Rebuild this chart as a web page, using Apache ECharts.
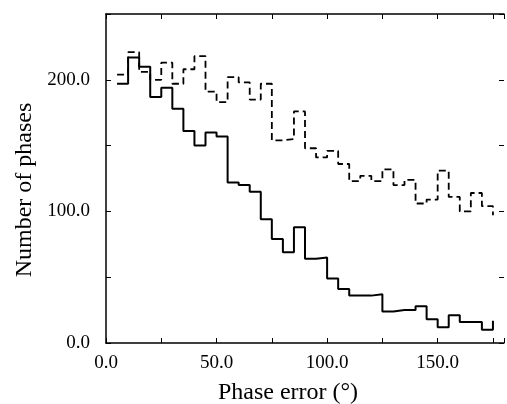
<!DOCTYPE html>
<html>
<head>
<meta charset="utf-8">
<script src="https://cdn.jsdelivr.net/npm/echarts@6/dist/echarts.min.js"></script>
<style>html,body{margin:0;padding:0;background:#fff}#c{width:507px;height:404px}</style>
</head>
<body>
<div id="c"></div>
<script>
const binStart = [5,10,15,20,25,30,35,40,45,50,55,60,65,70,75,80,85,90,95,100,105,110,115,120,125,130,135,140,145,150,155,160,165,170];
const binEnd = 175;
const solidValues = [197,217,210,187,194,178,161,150,160,157,122,120,115,94,79,69,88,64,65,49,41,36,36,37,24,25,25,28,18,12,21,16,16,10];
const solidEnd = 17;
const dashedValues = [204,221,206,200,213,197,208,218,191,183,202,198,185,197,154,155,176,148,141,146,136,123,127,123,132,120,124,106,109,131,111,100,114,104];
const dashedEnd = 97;
const xTickLabels = ['0.0','50.0','100.0','150.0'];
const yTickLabels = ['0.0','100.0','200.0'];
const xTitle = 'Phase error (°)';
const yTitle = 'Number of phases';

function stepData(vals, endVal) {
  const d = binStart.map((x, i) => [x, vals[i]]);
  d.push([binEnd, endVal]);
  return d;
}
const font = 'Liberation Serif';
const chart = echarts.init(document.getElementById('c'));
const tickCommon = {show: true, inside: true, length: 5, lineStyle: {color: '#000', width: 1}};
chart.setOption({
  animation: false,
  backgroundColor: '#fff',
  grid: {left: 106, top: 14, right: -1, bottom: 61},
  xAxis: [{
    type: 'value', min: 0, max: 180, interval: 25,
    axisLine: {show: true, onZero: false, lineStyle: {color: '#000', width: 1.5}},
    axisTick: tickCommon,
    splitLine: {show: false},
    axisLabel: {
      margin: 11, color: '#000', fontFamily: font, fontSize: 19,
      formatter: v => (v % 50 === 0 ? xTickLabels[v / 50] || '' : '')
    }
  }, {
    type: 'value', position: 'top', min: 0, max: 180, interval: 25,
    axisLine: {show: true, onZero: false, lineStyle: {color: '#000', width: 1.5}},
    axisTick: tickCommon, axisLabel: {show: false}, splitLine: {show: false}
  }],
  yAxis: [{
    type: 'value', min: 0, max: 250, interval: 50,
    axisLine: {show: true, onZero: false, lineStyle: {color: '#000', width: 1.5}},
    axisTick: tickCommon,
    splitLine: {show: false},
    axisLabel: {
      margin: 16, color: '#000', fontFamily: font, fontSize: 19,
      formatter: v => (v % 100 === 0 ? yTickLabels[v / 100] || '' : '')
    }
  }, {
    type: 'value', position: 'right', min: 0, max: 250, interval: 50,
    axisLine: {show: false, onZero: false},
    axisTick: tickCommon, axisLabel: {show: false}, splitLine: {show: false}
  }],
  graphic: [
    {type: 'text', x: 288, y: 393, style: {text: xTitle, fontFamily: font, fontSize: 24, fill: '#000', align: 'center', verticalAlign: 'middle'}},
    {type: 'text', x: 25, y: 190, rotation: Math.PI / 2, style: {text: yTitle, fontFamily: font, fontSize: 24, fill: '#000', align: 'center', verticalAlign: 'middle'}}
  ],
  series: [{
    type: 'line', step: 'end', showSymbol: false, symbol: 'none',
    data: stepData(dashedValues, dashedEnd),
    lineStyle: {color: '#000', width: 1.8, type: [7, 4]}
  }, {
    type: 'line', step: 'end', showSymbol: false, symbol: 'none',
    data: stepData(solidValues, solidEnd),
    lineStyle: {color: '#000', width: 2}
  }]
});
</script>
</body>
</html>
